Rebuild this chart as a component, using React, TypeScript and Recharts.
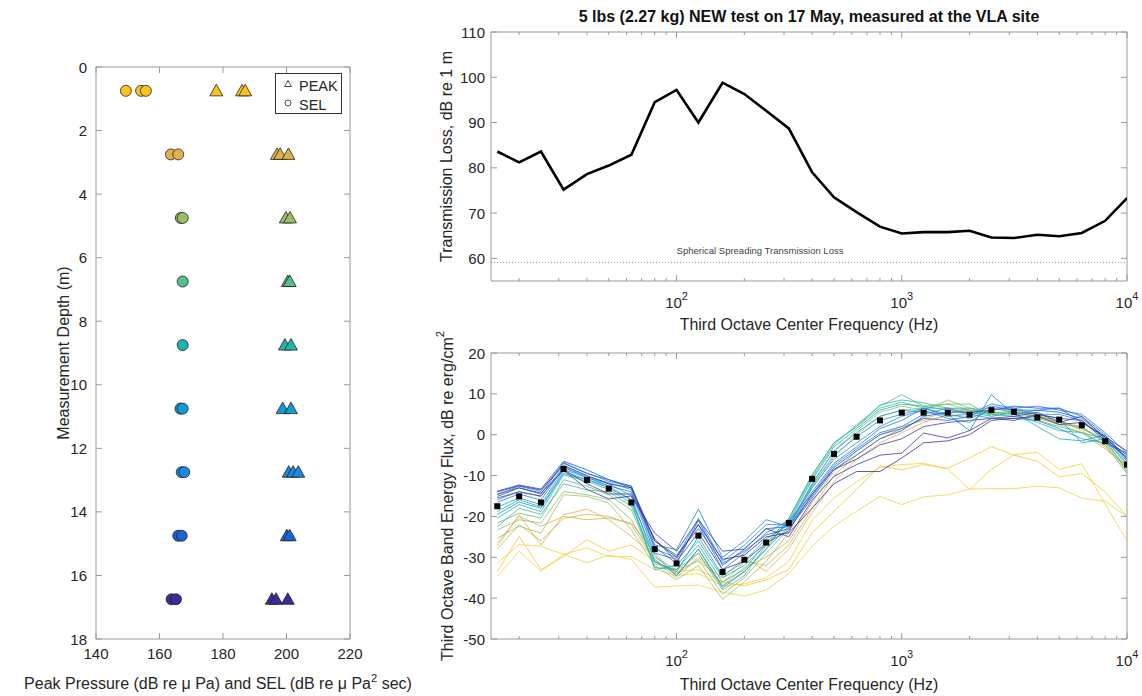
import React from 'react'
import { ScatterChart, Scatter, LineChart, Line, XAxis, YAxis, ReferenceLine, ReferenceDot, ReferenceArea } from 'recharts'

const FONT = '"Liberation Sans", Arial, Helvetica, sans-serif'
const INK = '#262626'
const AXIS = '#9a9a9a'

// left panel: peak pressure and SEL against depth
const depths = [0.75, 2.75, 4.75, 6.75, 8.75, 10.75, 12.75, 14.75, 16.75]
const depthColors = ['#F8C41E', '#DDB24C', '#96C066', '#57BD89', '#1FB3AE', '#119CD5', '#1C87DF', '#1764D6', '#3A2D97']
const selByDepth = [
  [149.4, 154.2, 155.7],
  [163.6, 165.9],
  [166.7, 167.3],
  [167.3],
  [167.3],
  [166.6, 167.3],
  [167, 167.8],
  [165.9, 167],
  [163.8, 165.2],
]
const peakByDepth = [
  [177.9, 186, 187],
  [197, 198, 200.6],
  [199.8, 201.1],
  [200.4, 201],
  [199.5, 201.4],
  [198.8, 201.4],
  [200.7, 202.1, 203.7],
  [200.1, 201],
  [195.4, 196.7, 200.4],
]
const depthTicks = [0, 2, 4, 6, 8, 10, 12, 14, 16, 18]
const pressureTicks = [140, 160, 180, 200, 220]

// third octave bands, shared by both right panels
const freqs = [16, 20, 25, 31.5, 40, 50, 63, 80, 100, 125, 160, 200, 250, 315, 400, 500, 630, 800, 1000, 1250, 1600, 2000, 2500, 3150, 4000, 5000, 6300, 8000, 10000]
const freqTicks = [20, 30, 40, 50, 60, 70, 80, 90, 100, 200, 300, 400, 500, 600, 700, 800, 900, 1000, 2000, 3000, 4000, 5000, 6000, 7000, 8000, 9000, 10000]
const freqDomain = [15, 10000]

// top right: transmission loss
const transmissionLoss = [83.6, 81.2, 83.6, 75.2, 78.6, 80.5, 82.9, 94.5, 97.2, 90, 98.8, 96.3, 92.6, 88.7, 79, 73.5, 70.2, 67, 65.5, 65.8, 65.8, 66.1, 64.6, 64.5, 65.2, 64.9, 65.6, 68.3, 73.3]
const sphericalLoss = 59.1
const sphericalLabelFreq = 100
const tlTicks = [60, 70, 80, 90, 100, 110]
const tlDomain = [55, 110]

// bottom right: band energy flux per hydrophone, shallow to deep
const meanFlux = [-17.5, -15.1, -16.6, -8.4, -11.1, -13.2, -16.6, -28, -31.5, -24.7, -33.6, -30.6, -26.4, -21.6, -10.8, -4.7, -0.5, 3.5, 5.4, 5.4, 5.4, 4.9, 6.0, 5.6, 4.2, 3.7, 2.3, -1.6, -7.3]
const fluxYellowA = [-31.4, -26.9, -27.3, -29.3, -27.7, -29.8, -29.8, -33, -34.5, -34, -37, -36.5, -35, -31, -21, -15.5, -11.5, -8, -7.3, -7, -8.4, -13.4, -8.5, -4.9, -4.3, -8.5, -7.1, -17, -26]
const fluxYellowB = [-33.5, -24.9, -33, -29.8, -25.7, -28.5, -27, -31, -33.5, -33, -36, -37, -35.5, -33, -24, -18.7, -13.4, -7.6, -8.6, -7.3, -8.2, -5.7, -2.9, -5, -6.5, -10.3, -9.5, -14, -20]
const fluxYellowC = [-34.7, -28.5, -33.4, -29.3, -31.3, -29.5, -30.5, -37.3, -37, -36.8, -38.5, -39.5, -38, -34, -27.3, -22.4, -18.7, -15.1, -17.1, -15.2, -14.7, -13.3, -13.2, -13.2, -12.6, -13, -15.5, -16.3, -20]
const fluxTanA = [-27.3, -19.6, -27, -19.6, -18.2, -20.8, -24.9, -30, -33, -31, -35, -30, -33.5, -28, -19, -11.5, -6, -2, 0.5, 3, 5, 6.5, 6.5, 6, 5, 3.5, 1, -3, -8]
const fluxTanB = [-26.5, -20, -22.4, -20, -20.8, -20.4, -21.6, -29, -34, -29, -37, -32.5, -30, -26, -16.5, -9, -4, 0, 2, 3.5, 4.5, 5.5, 5, 4.5, 4, 2.5, 0.5, -3.5, -7.5]
const fluxTanC = [-28, -22, -26, -20.5, -19.5, -20, -22, -31, -35, -30, -36.5, -31, -32, -27, -18, -10, -5, -1, 1.5, 4, 5.5, 6, 5.5, 5, 4.5, 3, 2, -2, -9]
const fluxGreenA = [-25.3, -22.4, -24.1, -14.7, -15.1, -16.7, -23.3, -32, -35.5, -32, -40.3, -36, -31, -24, -13, -5.5, 0, 4.5, 6, 6.5, 7.5, 6, 5.5, 5.5, 4.5, 3, 1.5, -1.5, -8.5]
const fluxGreenB = [-23.3, -20.8, -21.6, -13.9, -14.7, -15.9, -20.8, -31, -34, -30.5, -39, -35, -29, -23, -12, -4, 1, 5.5, 7, 6, 8.5, 6.5, 5, 6, 5, 2.5, 2, -2, -8]
const fluxGreenC = [-21.6, -19.2, -20.4, -11, -12.6, -14.7, -18.4, -31.5, -33, -29, -38, -34.5, -27, -21, -10.5, -2.5, 2.5, 7, 9.8, 7, 7.5, 7.5, 4.5, 5.5, 4.5, 3.5, 1.5, -1, -9]
const fluxGreenD = [-22.5, -18, -19.5, -12, -13.5, -14, -17.5, -30.5, -34.5, -28, -37, -33.5, -28, -20.5, -10, -2, 2, 6.5, 8, 6.5, 6.5, 6, 5, 4.5, 3.5, 2, 0.5, -2.5, -9.5]
const fluxTealA = [-20.4, -17.1, -18.8, -9.8, -11.4, -13.4, -16.7, -32.5, -33, -27, -36, -33, -26.5, -20.5, -9.8, -2, 2, 7.3, 8.5, 7.8, 6.5, 6.5, 5.5, 5, 3, 1, 0.5, -1, -7]
const fluxTealB = [-18.8, -15.9, -17.7, -9, -11, -12.6, -15.9, -33, -32, -26, -35, -32, -27, -21.5, -11, -3, 1.5, 6, 7.5, 7, 6, 5.5, 4.5, 5.5, 2, -1, -1.5, 0, -6]
const fluxTealC = [-17.7, -15.5, -17.1, -8.5, -10.5, -12, -15, -31, -33.5, -25, -34.5, -31, -25.5, -22, -12, -4, 0.5, 4.5, 6, 5.5, 5, 4, 6, 6.5, 5, 4, -2, -1, -5]
const fluxTealD = [-19.5, -16.5, -18, -9.5, -11, -13, -16, -29.5, -34.5, -28, -37.5, -33.5, -28, -22.5, -12.5, -5, -0.5, 3.5, 5, 6.5, 4.5, 5, 4, 4, 3.5, 1.5, -1, -2, -4.5]
const fluxBlueA = [-15.9, -13.9, -15.1, -7.8, -10.2, -11.8, -13.4, -28, -30, -20.5, -31, -27, -22, -22, -13, -6, -2, 2, 4.5, 6, 4, 3, 6.5, 5.5, 5, 5, 3.5, -1, -7.5]
const fluxBlueB = [-14.7, -12.6, -13.9, -6.8, -9.4, -11.4, -12.6, -27, -28.1, -18.2, -30, -26, -20.8, -22.5, -14, -7, -3, 1.5, 3.5, 6.5, 5, 1, 9.8, 5, 6, 6.5, 4.5, 0, -6]
const fluxBlueC = [-16.5, -14.5, -16, -8, -10.5, -12.5, -14, -29, -30.5, -22, -33, -29, -24, -21, -14.5, -7.5, -3.5, 0.5, 2, 5, 6.5, 5, 7.5, 6.5, 7, 6, 5, 0.5, -4.5]
const fluxBlueD = [-14.5, -13, -14.5, -7, -9.5, -11, -13, -27.5, -31.5, -21, -32, -28, -23, -22.5, -15, -8, -4, 0, 1.5, 4, 3.5, 4.5, 7, 6, 6, 5.5, 4, -0.5, -6.5]
const fluxBlueE = [-13.8, -12.3, -13.3, -6.5, -8.6, -11, -12.6, -26, -29.5, -23, -31.5, -28.5, -24.5, -23, -15.5, -8.5, -5, -1, 1, 4.5, 5.5, 5.5, 6, 7, 6.5, 6.5, 3, -0.5, -6]
const fluxPurpleA = [-15.1, -13, -14.3, -8.6, -13.4, -15.7, -15, -24.1, -28.5, -20.8, -28.5, -28, -23, -25, -16, -10.2, -7.3, -5, -4.5, 0.4, -0.8, 1, 4, 4.5, 5.5, 3, 4.5, -1, -5]
const fluxPurpleB = [-14, -12.5, -13.5, -7.5, -10, -12, -13, -26, -30, -22, -30.5, -29.5, -25, -24, -18, -12, -9, -9, -5.7, -2, -1.5, 0, 3.5, 4, 4.5, 2.5, 3, -0.5, -4]
const fluxPurpleC = [-15.5, -14, -15, -8.5, -12, -14.5, -14.5, -25.5, -31, -24, -33, -31, -26.5, -23.5, -14.5, -8.5, -6, -2.5, -1, 2, 3, 3.5, 4, 3.5, 5, 4, 3.5, -1.5, -5.5]
const fluxTicks = [-50, -40, -30, -20, -10, 0, 10, 20]
const fluxDomain = [-50, 20]

const fluxSeries = [
  fluxYellowA, fluxYellowB, fluxYellowC, fluxTanA, fluxTanB, fluxTanC,
  fluxGreenA, fluxGreenB, fluxGreenC, fluxGreenD, fluxTealA, fluxTealB, fluxTealC, fluxTealD,
  fluxBlueA, fluxBlueB, fluxBlueC, fluxBlueD, fluxBlueE, fluxPurpleA, fluxPurpleB, fluxPurpleC,
]
const fluxColors = [
  '#F9D03A', '#F7C72E', '#F5CF4A', '#E0B24E', '#D6AE58', '#CDB65A',
  '#A8C062', '#8EC36E', '#62BE84', '#4FBA92', '#2BB5AA', '#1DB0BA', '#16A3CF', '#1399D8',
  '#2B8CE0', '#1F80E3', '#2D79E2', '#1867D8', '#1D5DCF', '#3E3FAA', '#3C2F97', '#4B3E9F',
]

const selPoints = depths.flatMap((d, i) => selByDepth[i].map((v) => ({ x: v, y: d, c: depthColors[i] })))
const peakPoints = depths.flatMap((d, i) => peakByDepth[i].map((v) => ({ x: v, y: d, c: depthColors[i] })))
const tlData = freqs.map((f, i) => ({ f, tl: transmissionLoss[i] }))
const fluxData = freqs.map((f, i) => {
  const row: any = { f, mean: meanFlux[i] }
  fluxSeries.forEach((s, j) => { row['s' + j] = s[i] })
  return row
})

const AxisTitle = ({ viewBox, text, sup, tail, vertical, dx = 0, dy = 0, size = 16, bold }: any) => {
  if (!viewBox) return null
  const x = vertical ? viewBox.x + dx : viewBox.x + viewBox.width / 2 + dx
  const y = vertical ? viewBox.y + viewBox.height / 2 : viewBox.y + dy
  return (
    <text
      x={x}
      y={y}
      transform={vertical ? `rotate(-90 ${x} ${y})` : undefined}
      textAnchor="middle"
      dominantBaseline={vertical ? 'central' : undefined}
      fontSize={size}
      fontWeight={bold ? 'bold' : 'normal'}
      fill={bold ? '#111' : INK}
      fontFamily={FONT}
    >
      {text}
      {sup && <tspan dy={-7} fontSize={size * 0.7}>{sup}</tspan>}
      {tail && <tspan dy={7}>{tail}</tspan>}
    </text>
  )
}

// bottom ticks, drawn inward, mirrored on the top edge of the box
const BottomTick = ({ x, y, payload, plotH, log }: any) => {
  const v = payload.value
  const exp = Math.log10(v)
  const major = !log || Math.abs(exp - Math.round(exp)) < 1e-6
  const len = major ? 6 : 3
  return (
    <g>
      <line x1={x} y1={y} x2={x} y2={y - len} stroke={AXIS} />
      <line x1={x} y1={y - plotH} x2={x} y2={y - plotH + len} stroke={AXIS} />
      {major && !log && (
        <text x={x} y={y + 20} textAnchor="middle" fontSize={15} fill={INK} fontFamily={FONT}>{v}</text>
      )}
      {major && log && (
        <text x={x} y={y + 27} textAnchor="middle" fontSize={15} fill={INK} fontFamily={FONT}>
          10<tspan dy={-8} fontSize={11}>{Math.round(exp)}</tspan>
        </text>
      )}
    </g>
  )
}

// left ticks, drawn inward, mirrored on the right edge of the box
const LeftTick = ({ x, y, payload, plotW, gap }: any) => (
  <g>
    <line x1={x} y1={y} x2={x + 6} y2={y} stroke={AXIS} />
    <line x1={x + plotW} y1={y} x2={x + plotW - 6} y2={y} stroke={AXIS} />
    <text x={x - gap} y={y} textAnchor="end" dominantBaseline="central" fontSize={15} fill={INK} fontFamily={FONT}>
      {payload.value}
    </text>
  </g>
)

const PeakMarker = (p: any) => {
  const c = p.payload?.c ?? p.c
  const { cx, cy } = p
  return <polygon points={`${cx},${cy - 6.5} ${cx - 6.5},${cy + 5} ${cx + 6.5},${cy + 5}`} fill={c} stroke="#222" strokeWidth={0.8} />
}

const SelMarker = (p: any) => {
  const c = p.payload?.c ?? p.c
  return <circle cx={p.cx} cy={p.cy} r={5.5} fill={c} stroke="#222" strokeWidth={0.8} />
}

const SquareDot = (p: any) => (
  <rect key={`sq-${p.index}`} x={p.cx - 3} y={p.cy - 3} width={6} height={6} fill="#000" />
)

const SphericalLabel = ({ viewBox }: any) => {
  if (!viewBox) return null
  return (
    <text x={viewBox.x} y={viewBox.y - 8} fontSize={9.5} fill="#444" fontFamily={FONT}>
      Spherical Spreading Transmission Loss
    </text>
  )
}

const axisBare = { axisLine: false, tickLine: false, tickSize: 0, tickMargin: 0, interval: 0 as const, allowDataOverflow: true }

function DepthPanel() {
  const plotW = 254
  const plotH = 572
  return (
    <div style={{ position: 'absolute', left: 0, top: 0 }}>
      <ScatterChart width={440} height={696} margin={{ top: 67, right: 90, bottom: 0, left: 0 }}>
        <XAxis
          {...axisBare} xAxisId="b" type="number" dataKey="x" domain={[140, 220]} ticks={pressureTicks} height={57}
          tick={<BottomTick plotH={plotH} />}
          label={<AxisTitle text="Peak Pressure (dB re μ Pa) and SEL (dB re μ Pa" sup="2" tail=" sec)" dy={50} dx={-5} />}
        />
        <YAxis
          {...axisBare} yAxisId="l" type="number" dataKey="y" domain={[0, 18]} reversed ticks={depthTicks} width={96}
          tick={<LeftTick plotW={plotW} gap={9} />}
          label={<AxisTitle vertical text="Measurement Depth (m)" dx={63} />}
        />
        <ReferenceArea xAxisId="b" yAxisId="l" x1={140} x2={220} y1={0} y2={18} fill="none" stroke={AXIS} strokeWidth={1} />
        <Scatter xAxisId="b" yAxisId="l" data={peakPoints} shape={PeakMarker} isAnimationActive={false} />
        <Scatter xAxisId="b" yAxisId="l" data={selPoints} shape={SelMarker} isAnimationActive={false} />
      </ScatterChart>
      <svg width={68} height={42} style={{ position: 'absolute', left: 275, top: 73 }}>
        <rect x={0.5} y={0.5} width={66} height={40} fill="#fff" stroke="#333" strokeWidth={1} />
        <polygon points="13,7.5 9.5,13.5 16.5,13.5" fill="#fff" stroke="#222" strokeWidth={0.8} />
        <text x={24} y={18} fontSize={14.5} fill={INK} fontFamily={FONT}>PEAK</text>
        <circle cx={13} cy={30} r={3} fill="#fff" stroke="#222" strokeWidth={0.8} />
        <text x={24} y={37} fontSize={14.5} fill={INK} fontFamily={FONT}>SEL</text>
      </svg>
    </div>
  )
}

const PlotTitle = ({ viewBox }: any) => {
  if (!viewBox) return null
  return (
    <text x={viewBox.x + viewBox.width / 2} y={viewBox.y - 10} textAnchor="middle" fontSize={16} fontWeight="bold"
      fill="#111" fontFamily={FONT}>
      5 lbs (2.27 kg) NEW test on 17 May, measured at the VLA site
    </text>
  )
}

function TransmissionPanel() {
  const plotW = 636
  const plotH = 249
  return (
    <div style={{ position: 'absolute', left: 380, top: 0 }}>
      <LineChart width={762} height={340} data={tlData} margin={{ top: 32, right: 15, bottom: 0, left: 0 }}>
        <XAxis {...axisBare} xAxisId="b" type="number" dataKey="f" scale="log" domain={freqDomain} ticks={freqTicks}
          height={59} tick={<BottomTick plotH={plotH} log />}
          label={<AxisTitle text="Third Octave Center Frequency (Hz)" dy={49} />} />
        <YAxis {...axisBare} yAxisId="l" type="number" domain={tlDomain} ticks={tlTicks} width={111}
          tick={<LeftTick plotW={plotW} gap={6} />}
          label={<AxisTitle vertical text="Transmission Loss, dB re 1 m" dx={66} />} />
        <ReferenceArea xAxisId="b" yAxisId="l" x1={freqDomain[0]} x2={freqDomain[1]} y1={tlDomain[0]} y2={tlDomain[1]}
          fill="none" stroke={AXIS} strokeWidth={1} label={<PlotTitle />} />
        <ReferenceLine xAxisId="b" yAxisId="l" y={sphericalLoss} stroke="#8a8a8a" strokeDasharray="1 2" strokeWidth={0.9} />
        <ReferenceDot xAxisId="b" yAxisId="l" x={sphericalLabelFreq} y={sphericalLoss} r={0} fill="none" stroke="none"
          label={<SphericalLabel />} />
        <Line xAxisId="b" yAxisId="l" dataKey="tl" stroke="#000" strokeWidth={2.6} dot={false} isAnimationActive={false} />
      </LineChart>
    </div>
  )
}

function FluxPanel() {
  const plotW = 636
  const plotH = 286
  return (
    <div style={{ position: 'absolute', left: 380, top: 290 }}>
      <LineChart width={762} height={406} data={fluxData} margin={{ top: 63, right: 15, bottom: 0, left: 0 }}>
        <XAxis {...axisBare} xAxisId="b" type="number" dataKey="f" scale="log" domain={freqDomain} ticks={freqTicks}
          height={57} tick={<BottomTick plotH={plotH} log />}
          label={<AxisTitle text="Third Octave Center Frequency (Hz)" dy={51} />} />
        <YAxis {...axisBare} yAxisId="l" type="number" domain={fluxDomain} ticks={fluxTicks} width={111}
          tick={<LeftTick plotW={plotW} gap={6} />}
          label={<AxisTitle vertical text="Third Octave Band Energy Flux, dB re erg/cm" sup="2" dx={67} />} />
        <ReferenceArea xAxisId="b" yAxisId="l" x1={freqDomain[0]} x2={freqDomain[1]} y1={fluxDomain[0]} y2={fluxDomain[1]}
          fill="none" stroke={AXIS} strokeWidth={1} />
        {fluxSeries.map((_, j) => (
          <Line key={'s' + j} xAxisId="b" yAxisId="l" dataKey={'s' + j} stroke={fluxColors[j]} strokeWidth={1}
            strokeOpacity={0.8} dot={false} isAnimationActive={false} />
        ))}
        <Line xAxisId="b" yAxisId="l" dataKey="mean" stroke="none" dot={SquareDot} isAnimationActive={false} />
      </LineChart>
    </div>
  )
}

export default function App() {
  return (
    <div style={{ position: 'absolute', left: 0, top: 0, width: 1142, height: 696, background: '#fff', fontFamily: FONT }}>
      <DepthPanel />
      <TransmissionPanel />
      <FluxPanel />
    </div>
  )
}
